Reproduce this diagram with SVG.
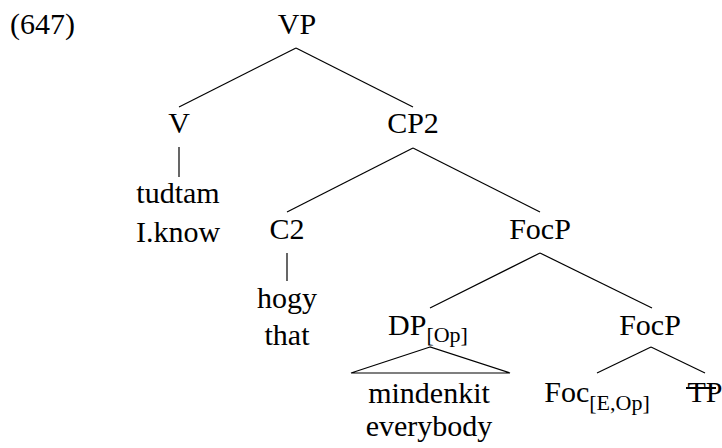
<svg xmlns="http://www.w3.org/2000/svg" width="722" height="448" viewBox="0 0 722 448">
<rect width="722" height="448" fill="#ffffff"/>
<text x="10" y="34" font-family="Times New Roman" font-size="30">(647)</text>
<g id="connectors" stroke="#000" stroke-width="1.2" fill="none">
<line x1="296" y1="48" x2="179" y2="107"/>
<line x1="296" y1="48" x2="413" y2="107"/>
<line x1="179" y1="147" x2="179" y2="177"/>
<line x1="413" y1="148" x2="287" y2="212"/>
<line x1="413" y1="148" x2="540" y2="212"/>
<line x1="287" y1="253" x2="287" y2="281"/>
<line x1="540" y1="253" x2="430" y2="308"/>
<line x1="540" y1="253" x2="652" y2="308"/>
<polygon points="430,347 351,373 510,373"/>
<line x1="651" y1="347" x2="597" y2="373"/>
<line x1="651" y1="347" x2="705" y2="373"/>
</g>
<g id="n-VP"><text x="297" y="34" font-family="Times New Roman" font-size="30" text-anchor="middle">VP</text></g>
<g id="n-V"><text x="179" y="133" font-family="Times New Roman" font-size="30" text-anchor="middle">V</text></g>
<g id="n-tudtam"><text x="178" y="203" font-family="Times New Roman" font-size="30" text-anchor="middle">tudtam</text><text x="178" y="242" font-family="Times New Roman" font-size="30" text-anchor="middle">I.know</text></g>
<g id="n-CP2"><text x="413" y="133" font-family="Times New Roman" font-size="30" text-anchor="middle">CP2</text></g>
<g id="n-C2"><text x="287" y="239" font-family="Times New Roman" font-size="30" text-anchor="middle">C2</text></g>
<g id="n-hogy"><text x="287" y="308" font-family="Times New Roman" font-size="30" text-anchor="middle">hogy</text><text x="287" y="345" font-family="Times New Roman" font-size="30" text-anchor="middle">that</text></g>
<g id="n-FocP1"><text x="540" y="239" font-family="Times New Roman" font-size="30" text-anchor="middle">FocP</text></g>
<g id="n-DP"><text x="428" y="335" font-family="Times New Roman" font-size="30" text-anchor="middle">DP<tspan font-size="22" dy="7">[Op]</tspan></text></g>
<g id="n-mindenkit"><text x="429" y="403" font-family="Times New Roman" font-size="30" text-anchor="middle">mindenkit</text><text x="429" y="436" font-family="Times New Roman" font-size="30" text-anchor="middle">everybody</text></g>
<g id="n-FocP2"><text x="650" y="335" font-family="Times New Roman" font-size="30" text-anchor="middle">FocP</text></g>
<g id="n-Foc"><text x="597" y="402" font-family="Times New Roman" font-size="30" text-anchor="middle">Foc<tspan font-size="22" dy="8">[E,Op]</tspan></text></g>
<g id="n-TP"><text x="705" y="402" font-family="Times New Roman" font-size="30" text-anchor="middle">TP</text><line x1="686" y1="388" x2="716" y2="388" stroke="#000" stroke-width="2"/></g>
</svg>
